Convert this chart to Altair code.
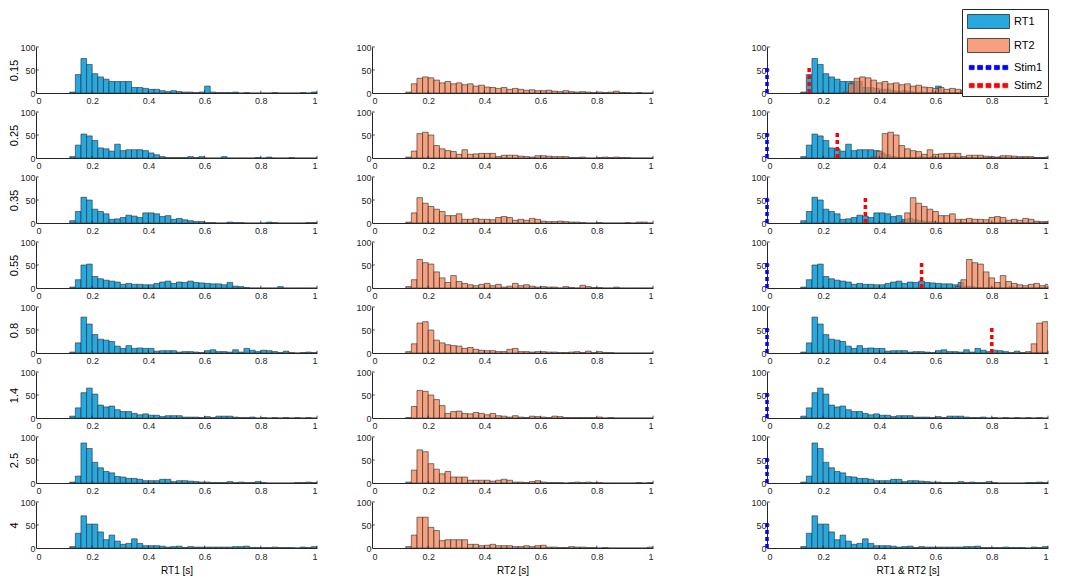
import altair as alt
import pandas as pd

# ---------------- data ----------------
SOA_VALUES = [0.15, 0.25, 0.35, 0.55, 0.8, 1.4, 2.5, 4]
SOA_LABELS = ["0.15", "0.25", "0.35", "0.55", "0.8", "1.4", "2.5", "4"]
BIN_WIDTH = 0.02
FIRST_BIN = 0.12          # left edge of the first bin; bins run 0.12 ... 0.98
XTICKS = [0, 0.2, 0.4, 0.6, 0.8, 1]
YTICKS = [0, 50, 100]
X_TITLES = ["RT1 [s]", "RT2 [s]", "RT1 & RT2 [s]"]
LEGEND_LABELS = ["RT1", "RT2", "Stim1", "Stim2"]
STIM_TOP = 60

RT1_015 = [2, 40, 75, 62, 42, 35, 30, 25, 25, 25, 25, 12, 12, 10, 8, 8, 5, 3, 5, 3,
           2, 2, 1, 2, 15, 2, 1, 1, 1, 2, 0, 1, 0, 0, 0, 0, 1, 0, 0, 0, 0, 1, 0, 2]
RT2_015 = [2, 20, 32, 35, 33, 28, 22, 25, 20, 22, 18, 20, 15, 17, 13, 12, 10, 12, 8, 10,
           8, 6, 7, 5, 5, 6, 4, 3, 5, 3, 2, 3, 2, 1, 2, 1, 2, 4, 1, 1, 0, 1, 0, 0]
RT1_025 = [3, 28, 52, 48, 38, 22, 20, 15, 30, 16, 18, 18, 18, 16, 11, 7, 3, 1, 1, 1,
           1, 3, 1, 3, 0, 0, 0, 3, 0, 0, 0, 0, 0, 1, 0, 2, 0, 0, 0, 1, 0, 0, 0, 0]
RT2_025 = [2, 15, 53, 56, 50, 27, 20, 16, 14, 8, 18, 8, 9, 10, 10, 10, 3, 6, 6, 6,
           4, 3, 2, 5, 5, 4, 3, 3, 3, 1, 1, 2, 0, 0, 1, 2, 1, 2, 1, 1, 0, 0, 0, 0]
RT1_035 = [5, 25, 56, 50, 30, 25, 20, 8, 9, 12, 17, 15, 12, 22, 22, 20, 14, 16, 8, 10,
           7, 5, 3, 3, 1, 1, 0, 0, 2, 1, 1, 0, 0, 0, 0, 2, 1, 0, 0, 0, 0, 0, 1, 1]
RT2_035 = [2, 22, 55, 43, 36, 30, 25, 16, 16, 20, 8, 8, 10, 8, 8, 7, 12, 14, 12, 6,
           8, 6, 10, 8, 4, 3, 3, 4, 3, 2, 2, 1, 0, 0, 1, 0, 0, 0, 0, 1, 0, 2, 2, 0]
RT1_055 = [2, 18, 50, 52, 25, 20, 17, 15, 13, 8, 10, 8, 8, 7, 7, 10, 13, 15, 10, 13,
           12, 15, 12, 11, 10, 9, 9, 7, 12, 4, 3, 1, 0, 0, 0, 0, 0, 3, 0, 0, 0, 0, 0, 0]
RT2_055 = [3, 18, 62, 55, 52, 35, 22, 12, 27, 14, 10, 7, 5, 8, 10, 5, 8, 2, 4, 10,
           5, 7, 4, 2, 3, 2, 2, 0, 3, 1, 0, 6, 3, 1, 1, 0, 0, 2, 0, 0, 0, 0, 0, 0]
RT1_08 = [2, 22, 78, 63, 40, 30, 28, 25, 15, 10, 16, 10, 11, 10, 10, 4, 5, 5, 5, 2,
          3, 3, 2, 1, 5, 7, 3, 3, 2, 7, 2, 10, 6, 3, 6, 5, 3, 1, 4, 1, 0, 1, 2, 1]
RT2_08 = [3, 20, 65, 68, 50, 28, 22, 18, 16, 15, 10, 12, 8, 6, 5, 5, 3, 3, 8, 10,
          3, 3, 2, 3, 3, 2, 2, 1, 1, 2, 3, 1, 4, 1, 3, 1, 1, 0, 0, 0, 0, 0, 0, 0]
RT1_14 = [4, 22, 55, 65, 52, 28, 24, 26, 18, 14, 14, 10, 7, 9, 6, 6, 3, 5, 5, 5,
          2, 2, 2, 1, 3, 1, 4, 4, 4, 2, 1, 1, 2, 0, 1, 0, 1, 0, 1, 0, 1, 0, 1, 0]
RT2_14 = [1, 25, 60, 58, 50, 40, 27, 10, 14, 15, 10, 9, 12, 10, 7, 10, 5, 4, 2, 5,
          2, 1, 4, 3, 2, 1, 4, 3, 1, 1, 1, 1, 1, 1, 2, 0, 1, 0, 0, 0, 0, 0, 0, 0]
RT1_25 = [2, 15, 87, 75, 45, 33, 25, 22, 14, 13, 10, 10, 8, 5, 5, 5, 8, 8, 3, 5,
          5, 4, 3, 2, 2, 1, 1, 1, 3, 1, 2, 1, 1, 3, 1, 0, 0, 0, 0, 0, 1, 1, 2, 1]
RT2_25 = [2, 28, 72, 68, 42, 30, 20, 25, 13, 13, 13, 6, 6, 6, 6, 4, 6, 8, 6, 2,
          2, 1, 3, 5, 2, 1, 1, 1, 0, 1, 2, 1, 2, 1, 1, 0, 0, 0, 0, 0, 0, 1, 0, 1]
RT1_4 = [3, 32, 70, 52, 52, 35, 18, 28, 15, 8, 10, 20, 10, 5, 5, 5, 4, 2, 3, 4,
         1, 3, 2, 2, 2, 2, 2, 2, 2, 3, 3, 4, 1, 1, 1, 1, 2, 1, 1, 1, 0, 2, 1, 3]
RT2_4 = [3, 28, 67, 67, 45, 38, 16, 18, 18, 18, 18, 8, 8, 5, 6, 8, 5, 5, 5, 3,
         3, 5, 3, 5, 6, 2, 2, 1, 1, 3, 2, 2, 1, 1, 0, 1, 0, 0, 0, 0, 0, 0, 0, 2]

RT1_COUNTS = [RT1_015, RT1_025, RT1_035, RT1_055, RT1_08, RT1_14, RT1_25, RT1_4]
RT2_COUNTS = [RT2_015, RT2_025, RT2_035, RT2_055, RT2_08, RT2_14, RT2_25, RT2_4]

# ---------------- styles ----------------
FONT = "Liberation Sans"
BLUE = "#27A8DF"
ORANGE = "#F38254"      # drawn with fill opacity 0.75 -> looks #F6A07F on white
ORANGE_LEGEND = "#F6A07F"
EDGE = "#2a2a2a"
STIM1_COLOR = "#0000FF"
STIM2_COLOR = "#FF0000"
AXIS_COLOR = "#262626"
W, H = 281, 46
V_SPACING = 19.0
GAP_LM = 37
GAP_MR = 96
TICK_LEN_Y = 5       # inward tick length, in count units
TICK_LEN_X = 0.01    # inward tick length, in seconds

# ---------------- tables ----------------
records = []
for r, soa in enumerate(SOA_VALUES):
    for series, counts in (("RT1", RT1_COUNTS[r]), ("RT2", RT2_COUNTS[r])):
        shift = soa if series == "RT2" else 0.0
        for j, c in enumerate(counts):
            x0 = FIRST_BIN + j * BIN_WIDTH
            records.append({"row": r, "series": series, "x0": x0, "x1": x0 + BIN_WIDTH,
                            "xs0": x0 + shift, "xs1": x0 + BIN_WIDTH + shift, "count": c})
hist = pd.DataFrame(records)
xtick_df = pd.DataFrame({"v": XTICKS[1:]})
ytick_df = pd.DataFrame({"v": YTICKS[1:]})

XSCALE = alt.Scale(domain=[0, 1], nice=False, zero=False)
YSCALE = alt.Scale(domain=[0, 100], nice=False)


def x_axis(title):
    if title:
        return alt.Axis(values=XTICKS, format="~g", ticks=False, labelPadding=4,
                        title=title, titlePadding=4, titleFontSize=10)
    return alt.Axis(values=XTICKS, format="~g", ticks=False, labelPadding=3, title=None)


def y_axis(title):
    if title:
        return alt.Axis(values=YTICKS, ticks=False, labelPadding=1, title=title,
                        titlePadding=0)
    return alt.Axis(values=YTICKS, ticks=False, labelPadding=1, title=None)


def bars(sub, xf, x2f, color, opacity, xtitle, ytitle):
    return alt.Chart(sub).mark_rect(
        fill=color, fillOpacity=opacity, stroke=EDGE, strokeWidth=0.6, clip=True
    ).encode(
        x=alt.X(f"{xf}:Q", scale=XSCALE, axis=x_axis(xtitle)),
        x2=alt.X2(f"{x2f}"),
        y=alt.Y("count:Q", scale=YSCALE, axis=y_axis(ytitle)),
        y2=alt.Y2(datum=0),
    )


def inward_ticks(xtitle, ytitle):
    xt = alt.Chart(xtick_df).mark_rule(stroke=AXIS_COLOR, strokeWidth=0.8).encode(
        x=alt.X("v:Q", scale=XSCALE, axis=x_axis(xtitle)),
        y=alt.Y(datum=0, scale=YSCALE, axis=y_axis(ytitle)),
        y2=alt.Y2(datum=TICK_LEN_Y),
    )
    yt = alt.Chart(ytick_df).mark_rule(stroke=AXIS_COLOR, strokeWidth=0.8).encode(
        y=alt.Y("v:Q", scale=YSCALE, axis=y_axis(ytitle)),
        x=alt.X(datum=0, scale=XSCALE, axis=x_axis(xtitle)),
        x2=alt.X2(datum=TICK_LEN_X),
    )
    return [xt, yt]


def stim_rule(xval, color, clip, xtitle):
    df = pd.DataFrame({"x": [xval]})
    return alt.Chart(df).mark_rule(
        stroke=color, strokeWidth=3.5, strokeDash=[4, 3], clip=clip
    ).encode(
        x=alt.X("x:Q", scale=XSCALE, axis=x_axis(xtitle)),
        y=alt.Y(datum=0, scale=YSCALE, axis=y_axis(None)),
        y2=alt.Y2(datum=STIM_TOP),
    )


# legend symbols (drawn as custom paths)
RECT_PATH = "M-3,-1H3V1H-3Z"
dots = []
x = -2.75
for k in range(5):
    dots.append(f"M{x:.2f},-0.3H{x + 0.7:.2f}V0.3H{x:.2f}Z")
    x += 1.2
DOT_PATH = "".join(dots)

LEG = dict(title=None, orient="none", legendX=926, legendY=-38,
           symbolSize=196, symbolOffset=14, labelOffset=18, symbolOpacity=1,
           symbolStrokeWidth=0.8, labelFont=FONT, labelFontSize=11, labelColor="#000",
           padding=5, rowPadding=5, strokeColor=AXIS_COLOR, fillColor="white")

legend_df = pd.DataFrame({"series": LEGEND_LABELS})
legend_layer = alt.Chart(legend_df).mark_point(filled=True, opacity=0).encode(
    fill=alt.Fill("series:N", scale=alt.Scale(domain=LEGEND_LABELS,
                  range=[BLUE, ORANGE_LEGEND, STIM1_COLOR, STIM2_COLOR]),
                  legend=alt.Legend(**LEG)),
    stroke=alt.Stroke("series:N", scale=alt.Scale(domain=LEGEND_LABELS,
                      range=[EDGE, EDGE, STIM1_COLOR, STIM2_COLOR]),
                      legend=alt.Legend(**LEG)),
    shape=alt.Shape("series:N", scale=alt.Scale(domain=LEGEND_LABELS,
                    range=[RECT_PATH, RECT_PATH, DOT_PATH, DOT_PATH]),
                    legend=alt.Legend(**LEG)),
)

left_panels, mid_panels, right_panels = [], [], []
n = len(SOA_VALUES)
for r, soa in enumerate(SOA_VALUES):
    last = r == n - 1
    sub1 = hist[(hist.row == r) & (hist.series == "RT1")]
    sub2 = hist[(hist.row == r) & (hist.series == "RT2")]
    xl = X_TITLES[0] if last else None
    xm = X_TITLES[1] if last else None
    xr = X_TITLES[2] if last else None
    left_panels.append(alt.layer(
        bars(sub1, "x0", "x1", BLUE, 1.0, xl, SOA_LABELS[r]),
        *inward_ticks(xl, SOA_LABELS[r]),
    ).properties(width=W, height=H))
    mid_panels.append(alt.layer(
        bars(sub2, "x0", "x1", ORANGE, 0.75, xm, None),
        *inward_ticks(xm, None),
    ).properties(width=W, height=H))
    layers = [
        bars(sub1, "xs0", "xs1", BLUE, 1.0, xr, None),
        bars(sub2, "xs0", "xs1", ORANGE, 0.75, xr, None),
        *inward_ticks(xr, None),
        stim_rule(0.0, STIM1_COLOR, False, xr),
        stim_rule(soa, STIM2_COLOR, True, xr),
    ]
    if r == 0:
        layers.append(legend_layer)
    right_panels.append(alt.layer(*layers).properties(width=W, height=H))

left_col = alt.vconcat(*left_panels, spacing=V_SPACING, bounds="flush")
mid_col = alt.vconcat(*mid_panels, spacing=V_SPACING, bounds="flush")
right_col = alt.vconcat(*right_panels, spacing=V_SPACING, bounds="flush")

chart = alt.hconcat(
    alt.hconcat(left_col, mid_col, spacing=GAP_LM),
    right_col, spacing=GAP_MR,
).properties(padding=0).configure_view(stroke="transparent").configure_axis(
    labelFont=FONT, labelFontSize=9, labelColor=AXIS_COLOR,
    titleFont=FONT, titleFontSize=11, titleFontWeight="normal", titleColor="#000",
    domainColor=AXIS_COLOR, domainWidth=1, grid=False,
)

chart.save("out.html", embed_options={"renderer": "svg", "actions": False})
